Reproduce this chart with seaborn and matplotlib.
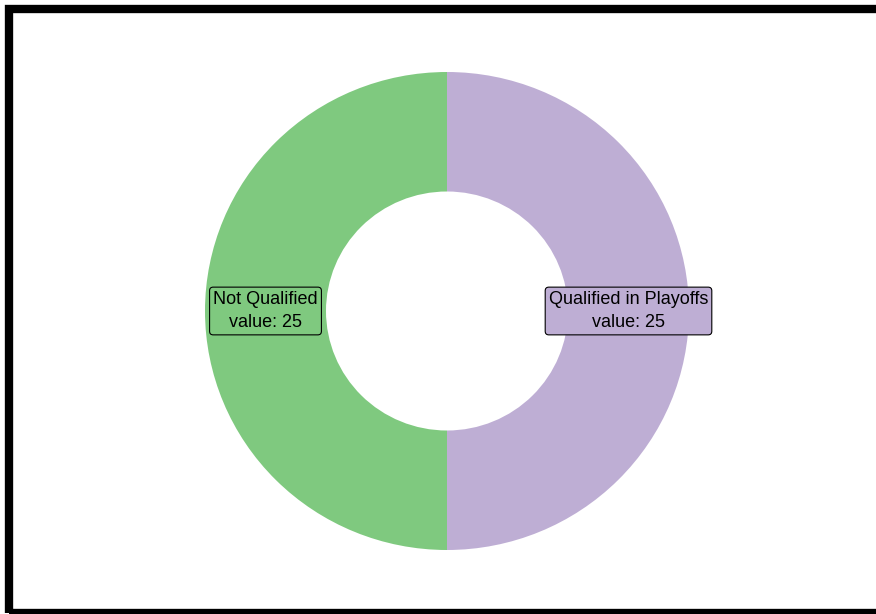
import matplotlib
matplotlib.use("Agg")
import matplotlib.pyplot as plt
from matplotlib.patches import Rectangle
import numpy as np
import seaborn as sns

categories = ["Not Qualified", "Qualified in Playoffs"]
values = [25, 25]

sns.set_style("white")
plt.rcParams["font.family"] = ["Liberation Sans", "DejaVu Sans"]
colors = sns.color_palette("Accent", 2)

W, H = 876, 614
fig = plt.figure(figsize=(W / 100, H / 100), dpi=100)
fig.patch.set_facecolor("white")

# axes holding the donut
cx, cy, rx, ry = 447, 303, 242, 239
ax = fig.add_axes([(cx - rx) / W, (cy - ry) / H, 2 * rx / W, 2 * ry / H])
wedges, _ = ax.pie(values, colors=colors, startangle=90, radius=1.0,
                   wedgeprops=dict(width=0.5, edgecolor="none"))
ax.set_xlim(-1, 1)
ax.set_ylim(-1, 1)
ax.set_aspect("auto")
ax.axis("off")

start = 90.0
total = sum(values)
for cat, val, col in zip(categories, values, colors):
    span = 360.0 * val / total
    mid = np.deg2rad(start + span / 2)
    start += span
    x, y = 0.75 * np.cos(mid), 0.75 * np.sin(mid)
    ax.text(x, y, f"{cat}\nvalue: {val}", ha="center", va="center",
            fontsize=13, linespacing=1.5, color="black",
            bbox=dict(boxstyle="round,pad=0.2", facecolor=col,
                      edgecolor="black", linewidth=0.8))

# figure frame
frame = Rectangle((9 / W, 1 - 613 / H), (890 - 9) / W, (613 - 9) / H,
                  transform=fig.transFigure, fill=False, edgecolor="black",
                  linewidth=6, clip_on=False)
fig.patches.append(frame)

fig.savefig("out.png", dpi=100, facecolor="white")
